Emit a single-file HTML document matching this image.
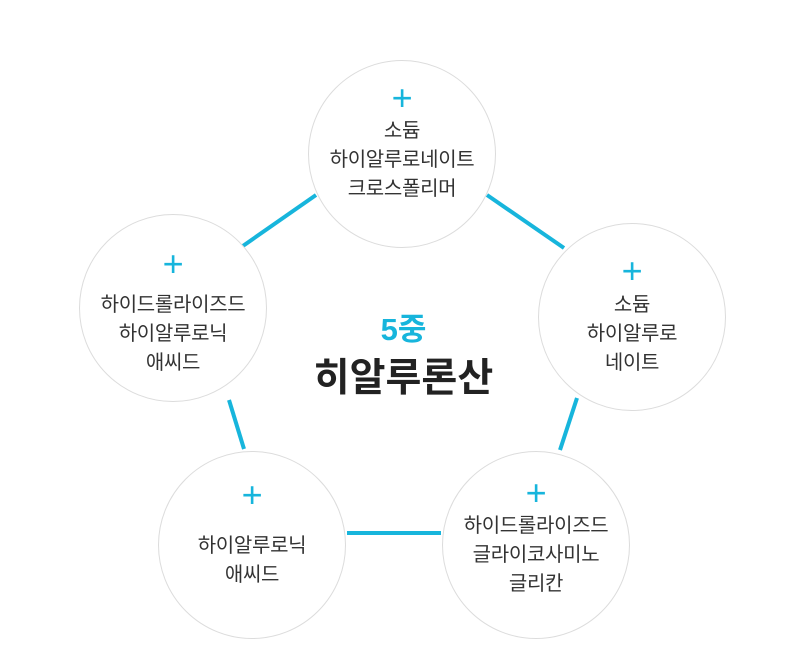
<!DOCTYPE html>
<html><head><meta charset="utf-8"><style>
html,body{margin:0;padding:0;background:#fff;width:807px;height:652px;overflow:hidden}
.c{position:absolute;width:188px;height:188px;border:1px solid #dcdcdc;border-radius:50%;background:#fff;box-sizing:border-box;text-align:center;font-family:"Liberation Sans","Noto Sans CJK KR",sans-serif;color:#333;font-size:20px;line-height:29px;letter-spacing:-0.3px}
.p{position:absolute;left:0;right:0;color:#17b5dc;font-size:36px;font-weight:normal;line-height:30px}
.t{position:absolute;left:0;right:0}
</style></head><body>
<svg width="807" height="652" style="position:absolute;left:0;top:0">
<g stroke="#17b5dc" stroke-width="4">
<line x1="240" y1="248" x2="316" y2="195"/>
<line x1="487" y1="195" x2="564" y2="248"/>
<line x1="577" y1="398" x2="560" y2="450"/>
<line x1="347" y1="533" x2="441" y2="533"/>
<line x1="229" y1="400" x2="244" y2="449"/>
</g></svg>
<div class="c" style="left:308px;top:60px"><div class="p" style="top:22px">+</div><div class="t" style="top:56px">소듐<br>하이알루로네이트<br>크로스폴리머</div></div>
<div class="c" style="left:538px;top:223px"><div class="p" style="top:32px">+</div><div class="t" style="top:67px">소듐<br>하이알루로<br>네이트</div></div>
<div class="c" style="left:442px;top:451px"><div class="p" style="top:26px">+</div><div class="t" style="top:60px">하이드롤라이즈드<br>글라이코사미노<br>글리칸</div></div>
<div class="c" style="left:158px;top:451px"><div class="p" style="top:28px">+</div><div class="t" style="top:80px">하이알루로닉<br>애씨드</div></div>
<div class="c" style="left:79px;top:214px"><div class="p" style="top:34px">+</div><div class="t" style="top:76px">하이드롤라이즈드<br>하이알루로닉<br>애씨드</div></div>
<div style="position:absolute;left:300px;right:300px;top:311px;text-align:center;font-family:'Liberation Sans','Noto Sans CJK KR',sans-serif;color:#17b5dc;font-size:31px;font-weight:bold;line-height:38px">5중</div>
<div style="position:absolute;left:230px;width:347px;top:356px;text-align:center;font-family:'Liberation Sans','Noto Sans CJK KR',sans-serif;color:#222;font-size:39px;font-weight:bold;line-height:46px">히알루론산</div>
</body></html>
